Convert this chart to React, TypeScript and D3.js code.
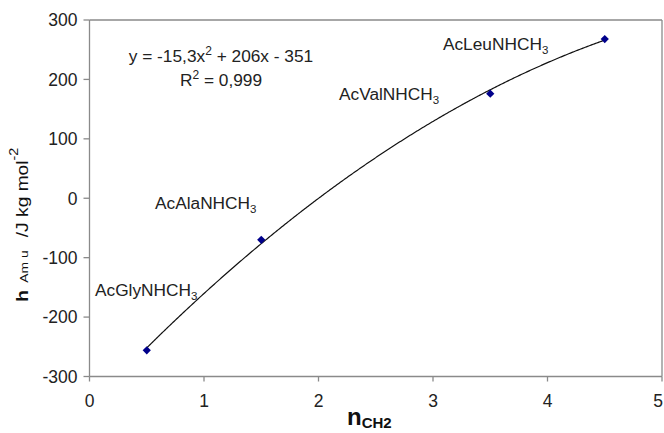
import React from "react";
import * as d3 from "d3";

const nCH2 = [0.5, 1.5, 3.5, 4.5];
const hValues = [-256, -70, 176, 268];
const pointLabels = ["AcGlyNHCH", "AcAlaNHCH", "AcValNHCH", "AcLeuNHCH"];
const labelAnchorsX = [0.048, 0.572, 2.179, 3.087];
const labelAnchorsY = [-164.5, -18, 165.4, 249.5];
const fitCoefficients = [-15.3, 206, -351];
const xTicks = [0, 1, 2, 3, 4, 5];
const yTicks = [-300, -200, -100, 0, 100, 200, 300];

export default function App() {
  const W = 664, H = 433;
  const left = 89.5, right = 662, top = 20, bottom = 376.5;
  const x = d3.scaleLinear().domain([0, 5]).range([left, right]);
  const y = d3.scaleLinear().domain([-300, 300]).range([bottom, top]);
  const [a, b, c] = fitCoefficients;
  const fitX = d3.range(0, 401).map((i) => nCH2[0] + (i / 400) * (nCH2[nCH2.length - 1] - nCH2[0]));
  const line = d3
    .line<number>()
    .x((d) => x(d))
    .y((d) => y(a * d * d + b * d + c));
  const font = "'Liberation Sans', Arial, sans-serif";
  const axisColor = "#8a8a8a";
  const marker = d3.symbol().type(d3.symbolSquare).size(34)();
  const tickFs = 17.5;
  const labelFs = 17.3;
  return (
    <svg width={W} height={H} style={{ position: "absolute", left: 0, top: 0, background: "#fff" }} fontFamily={font}>
      <rect x={0} y={0} width={W} height={H} fill="#fff" />
      <line x1={left} y1={top} x2={right} y2={top} stroke={axisColor} strokeWidth={1.3} />
      <line x1={right} y1={top} x2={right} y2={bottom} stroke={axisColor} strokeWidth={1.3} />
      <line x1={left} y1={top} x2={left} y2={bottom} stroke={axisColor} strokeWidth={1.3} />
      <line x1={left} y1={bottom} x2={right} y2={bottom} stroke={axisColor} strokeWidth={1.3} />
      {yTicks.map((t) => (
        <g key={"y" + t}>
          <line x1={left - 6} x2={left} y1={y(t)} y2={y(t)} stroke={axisColor} strokeWidth={1.3} />
          <text x={left - 12} y={y(t) + 6.3} textAnchor="end" fontSize={tickFs} fill="#222">
            {t}
          </text>
        </g>
      ))}
      {xTicks.map((t) => (
        <g key={"x" + t}>
          <line x1={x(t)} x2={x(t)} y1={bottom} y2={bottom + 5} stroke={axisColor} strokeWidth={1.3} />
          <text x={Math.min(x(t), W - 6)} y={bottom + 30.5} textAnchor="middle" fontSize={tickFs} fill="#222">
            {t}
          </text>
        </g>
      ))}
      <path d={line(fitX) || ""} fill="none" stroke="#111" strokeWidth={1.2} />
      {nCH2.map((v, i) => (
        <path
          key={"p" + i}
          d={marker || ""}
          transform={`translate(${x(v)},${y(hValues[i])}) rotate(45)`}
          fill="#00008B"
        />
      ))}
      {pointLabels.map((l, i) => (
        <text key={"l" + i} x={x(labelAnchorsX[i])} y={y(labelAnchorsY[i])} fontSize={labelFs} fill="#222">
          {l}
          <tspan fontSize={11.5} dy={4}>3</tspan>
        </text>
      ))}
      <text x={221} y={62} textAnchor="middle" fontSize={labelFs} fill="#222">
        y = -15,3x<tspan fontSize={12} dy={-7}>2</tspan>
        <tspan dy={7}> + 206x - 351</tspan>
      </text>
      <text x={221} y={86} textAnchor="middle" fontSize={labelFs} fill="#222">
        R<tspan fontSize={12} dy={-7}>2</tspan>
        <tspan dy={7}> = 0,999</tspan>
      </text>
      <g transform="translate(28,302) scale(1,1.2) rotate(-90)">
        <text x={0} y={0} fill="#111" fontSize={16}>
          <tspan fontWeight="bold" fontSize={16.5}>h</tspan>
          <tspan x={16} fontSize={11.5} textLength={27} lengthAdjust="spacing">Am u</tspan>
          <tspan x={54}>/J kg mol</tspan>
          <tspan fontSize={12} dy={-10}>-2</tspan>
        </text>
      </g>
      <text x={347} y={425} fill="#111">
        <tspan fontWeight="bold" fontSize={24}>n</tspan>
        <tspan fontWeight="bold" fontSize={15} dy={3}>CH2</tspan>
      </text>
    </svg>
  );
}
